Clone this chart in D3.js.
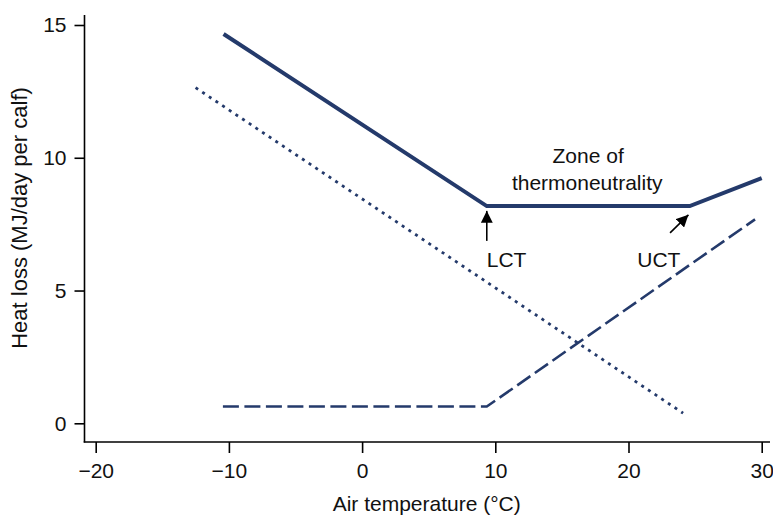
<!DOCTYPE html>
<html>
<head>
<meta charset="utf-8">
<script src="https://cdn.jsdelivr.net/npm/d3@7"></script>
<style>
  body { margin: 0; background: #fff; }
  svg text { font-family: "Liberation Sans", Arial, Helvetica, sans-serif; fill: #111; }
</style>
</head>
<body>
<div id="container"></div>
<script>
// Heat loss curves (x = air temperature in °C, y = heat loss MJ/day per calf)
const totalTemp = [-10.4, 9.36, 24.6, 30];
const totalLoss = [14.66, 8.18, 8.18, 9.23];

const sensibleTemp = [-12.5, 24.1];
const sensibleLoss = [12.64, 0.38];

const evapTemp = [-10.45, 9.36, 29.5];
const evapLoss = [0.63, 0.63, 7.68];

const xTicks = [-20, -10, 0, 10, 20, 30];
const yTicks = [0, 5, 10, 15];

const lineColor = "#243a6b";

function zip(xs, ys) {
    return xs.map((x, i) => ({ x: x, y: ys[i] }));
}

const width = 773, height = 516;

const x = d3.scaleLinear().domain([-20, 30]).range([95.7, 761.7]);
const y = d3.scaleLinear().domain([0, 15]).range([423.3, 25]);

const svg = d3.select("#container")
    .append("svg")
    .attr("width", width)
    .attr("height", height);

// Axes
const axisX = 84.5, axisY = 442;

const yAxis = svg.append("g")
    .attr("transform", "translate(" + axisX + ",0)")
    .call(d3.axisLeft(y).tickValues(yTicks).tickSize(10).tickPadding(8));
yAxis.select(".domain").remove();
yAxis.append("line")
    .attr("x1", 0).attr("x2", 0)
    .attr("y1", 15).attr("y2", axisY + 0.5)
    .attr("stroke", "#000").attr("stroke-width", 1.6);

const xAxis = svg.append("g")
    .attr("transform", "translate(0," + axisY + ")")
    .call(d3.axisBottom(x).tickValues(xTicks).tickSize(11).tickPadding(10)
        .tickFormat(d => d < 0 ? "\u2212" + Math.abs(d) : d));
xAxis.select(".domain").remove();
xAxis.append("line")
    .attr("x1", axisX - 0.8).attr("x2", 770)
    .attr("y1", 0).attr("y2", 0)
    .attr("stroke", "#000").attr("stroke-width", 1.6);

svg.selectAll(".tick line").attr("stroke", "#000").attr("stroke-width", 1.6);
svg.selectAll(".tick text")
    .style("font-size", "21px")
    .style("font-family", "'Liberation Sans', Arial, sans-serif")
    .attr("fill", "#111");

// Axis titles
svg.append("text")
    .attr("x", x(4.85))
    .attr("y", 511)
    .attr("text-anchor", "middle")
    .style("font-size", "21px")
    .text("Air temperature (°C)");

svg.append("text")
    .attr("transform", "translate(27," + 218 + ") rotate(-90)")
    .attr("text-anchor", "middle")
    .style("font-size", "22px")
    .text("Heat loss (MJ/day per calf)");

// Lines
const line = d3.line().x(d => x(d.x)).y(d => y(d.y));

svg.append("path")
    .datum(zip(sensibleTemp, sensibleLoss))
    .attr("fill", "none")
    .attr("stroke", lineColor)
    .attr("stroke-width", 2.8)
    .attr("stroke-dasharray", "3,5")
    .attr("d", line);

svg.append("path")
    .datum(zip(evapTemp, evapLoss))
    .attr("fill", "none")
    .attr("stroke", lineColor)
    .attr("stroke-width", 2.6)
    .attr("stroke-dasharray", "16,5.5")
    .attr("d", line);

svg.append("path")
    .datum(zip(totalTemp, totalLoss))
    .attr("fill", "none")
    .attr("stroke", lineColor)
    .attr("stroke-width", 4)
    .attr("stroke-linejoin", "miter")
    .attr("d", line);

// Annotations
svg.append("defs").append("marker")
    .attr("id", "arrow")
    .attr("viewBox", "0 0 10 10")
    .attr("refX", 10).attr("refY", 5)
    .attr("markerWidth", 12).attr("markerHeight", 12)
    .attr("markerUnits", "userSpaceOnUse")
    .attr("orient", "auto")
    .append("path")
    .attr("d", "M0,0L10,5L0,10Z")
    .attr("fill", "#000");

const arrows = [
    { x1: 9.36, y1: 6.87, x2: 9.36, y2: 8.0 },
    { x1: 23.12, y1: 7.17, x2: 24.5, y2: 7.85 }
];
svg.selectAll(".arrow")
    .data(arrows)
    .enter().append("line")
    .attr("class", "arrow")
    .attr("x1", d => x(d.x1)).attr("y1", d => y(d.y1))
    .attr("x2", d => x(d.x2)).attr("y2", d => y(d.y2))
    .attr("stroke", "#000")
    .attr("stroke-width", 1.6)
    .attr("marker-end", "url(#arrow)");

const labels = [
    { text: "Zone of", x: 16.97, y: 9.8, anchor: "middle" },
    { text: "thermoneutrality", x: 16.9, y: 8.78, anchor: "middle" },
    { text: "LCT", x: 9.36, y: 5.9, anchor: "start" },
    { text: "UCT", x: 23.9, y: 5.9, anchor: "end" }
];
svg.selectAll(".annot")
    .data(labels)
    .enter().append("text")
    .attr("class", "annot")
    .attr("x", d => x(d.x))
    .attr("y", d => y(d.y))
    .attr("text-anchor", d => d.anchor)
    .style("font-size", "21px")
    .text(d => d.text);
</script>
</body>
</html>
